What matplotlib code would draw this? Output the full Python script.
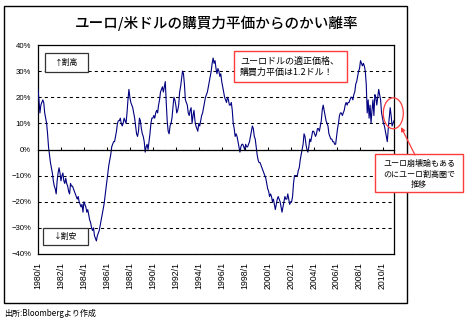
import numpy as np
import pandas as pd
import matplotlib
matplotlib.use('Agg')
import matplotlib.pyplot as plt
from matplotlib.patches import Rectangle, Ellipse, FancyArrowPatch

plt.rcParams['font.family'] = ['Noto Sans CJK JP', 'DejaVu Sans']

# ── data: monthly deviation (%) of EUR/USD from PPP ──────────────────────────

dev_1980s = [
    23, 19, 14, 17, 18, 19, 18, 14, 12, 10, 6, 1,              # 1980
    -2, -5, -7, -9, -12, -14, -15, -17, -12, -9, -7, -9,       # 1981
    -12, -10, -9, -12, -13, -11, -13, -14, -16, -17, -13, -14, # 1982
    -14, -15, -16, -17, -18, -19, -18, -20, -21, -22, -21, -24,# 1983
    -20, -21, -22, -24, -23, -25, -27, -28, -30, -31, -30, -33,# 1984
    -34, -35, -33, -32, -31, -29, -27, -25, -23, -21, -18, -15,# 1985
    -12, -9, -6, -4, -2, 1, 2, 3, 3, 5, 7, 10,                 # 1986
    11, 11, 12, 10, 9, 10, 12, 11, 10, 14, 19, 23,             # 1987
    20, 18, 17, 16, 14, 12, 9, 6, 5, 7, 12, 11,                # 1988
    8, 6, 5, 3, -1, 1, 2, 0, 3, 6, 10, 12,                     # 1989
]
dev_1990s = [
    12, 13, 12, 14, 15, 14, 17, 19, 22, 23, 24, 22,            # 1990
    24, 26, 18, 11, 7, 6, 9, 10, 12, 16, 20, 19,               # 1991
    17, 14, 15, 17, 22, 24, 27, 30, 29, 25, 19, 18,            # 1992
    17, 14, 13, 15, 16, 10, 13, 15, 11, 9, 8, 7,               # 1993
    10, 9, 11, 13, 14, 16, 18, 20, 21, 22, 24, 26,             # 1994
    28, 30, 33, 35, 33, 34, 31, 29, 31, 30, 28, 29,            # 1995
    26, 24, 22, 20, 19, 18, 20, 19, 17, 17, 18, 15,            # 1996
    10, 8, 5, 6, 5, 3, 1, -1, 1, 2, 2, 1,                      # 1997
    0, 2, 1, 1, 2, 3, 5, 7, 9, 8, 5, 4,                        # 1998
    1, -2, -4, -5, -5, -6, -7, -8, -9, -10, -11, -13,          # 1999
]
dev_2000s = [
    -15, -16, -18, -17, -18, -20, -19, -21, -23, -21, -19, -18,# 2000
    -19, -20, -22, -24, -22, -20, -18, -19, -19, -17, -19, -21,# 2001
    -20, -20, -18, -13, -10, -10, -10, -10, -8, -7, -4, -2,    # 2002
    0, 2, 6, 5, 2, 0, -1, 1, 4, 3, 5, 7,                       # 2003
    7, 6, 5, 6, 8, 8, 7, 9, 11, 15, 17, 15,                    # 2004
    13, 11, 10, 9, 6, 5, 4, 4, 3, 3, 2, 2,                     # 2005
    5, 8, 10, 13, 14, 14, 13, 14, 15, 17, 18, 17,              # 2006
    18, 18, 19, 20, 20, 19, 21, 22, 25, 26, 28, 30,            # 2007
    31, 34, 33, 32, 33, 32, 30, 25, 14, 19, 12, 17,            # 2008
    10, 15, 19, 13, 21, 20, 17, 20, 23, 21, 19, 14,            # 2009
]
dev_2010s = [
    12, 10, 9, 7, 5, 3, 8, 12, 16, 13, 9, 10,                  # 2010
    11,                                                        # 2011
]

y_ticks = [-40, -30, -20, -10, 0, 10, 20, 30, 40]

dev = np.array(dev_1980s + dev_1990s + dev_2000s + dev_2010s, dtype=float)
dates = pd.date_range('1980-01-01', periods=len(dev), freq='MS')
x = np.arange(len(dev))
tick_pos = x[::24]
tick_lab = [f'{d.year}/{d.month}' for d in dates[::24]]

# ── layout helpers (pixel → figure fraction) ─────────────────────────────────

W, H = 468, 322
def fx(px): return px / W
def fy(py): return 1 - py / H

RED = '#ff3c3c'
NAVY = '#000080'
TICKFONT = 'Liberation Sans'

fig = plt.figure(figsize=(W / 100, H / 100), dpi=100)
fig.patch.set_facecolor('white')

ax = fig.add_axes([fx(38), fy(254), fx(394) - fx(38), fy(45) - fy(254)])
ax.plot(x, dev, color=NAVY, lw=0.8, zorder=3)
ax.set_xlim(x[0], x[-1])
ax.set_ylim(-40, 40)

ax.set_yticks(y_ticks)
ax.set_yticklabels([f'{v}%'.replace('-', '\u2212') for v in y_ticks],
                   fontsize=5.6, family=TICKFONT)
ax.tick_params(axis='y', length=0, pad=5)
ax.grid(axis='y', color='black', lw=0.75, ls=(0, (3, 3)))

# x axis line crosses at 0 with small inward ticks, labels at the bottom
ax.spines['bottom'].set_position(('data', 0))
ax.spines['bottom'].set_zorder(4)
ax.set_xticks(tick_pos)
ax.tick_params(axis='x', direction='in', length=2.5, width=0.75,
               labelbottom=False)
for s in ax.spines.values():
    s.set_linewidth(0.9)

sec = ax.secondary_xaxis('bottom')
sec.set_xticks(tick_pos)
sec.set_xticklabels(tick_lab, rotation=90, fontsize=6.3, family=TICKFONT)
sec.tick_params(length=0, pad=6)
sec.spines['bottom'].set_linewidth(0.9)

# ── frame, title, notes ──────────────────────────────────────────────────────

fig.add_artist(Rectangle((fx(4), fy(303)), fx(407) - fx(4), fy(6) - fy(303),
                         transform=fig.transFigure, fill=False,
                         ec='black', lw=1.0))

fig.text(fx(217), fy(23), 'ユーロ/米ドルの購買力平価からのかい離率',
         ha='center', va='center', fontsize=10.5, fontweight='medium')

def box(x0, y0, x1, y1, ec, lw=0.9):
    fig.add_artist(Rectangle((fx(x0), fy(y1)), fx(x1) - fx(x0), fy(y0) - fy(y1),
                             transform=fig.transFigure, fc='white',
                             ec=ec, lw=lw, zorder=5))

box(45, 53, 88, 72, '#333333')
fig.text(fx(66.5), fy(62.5), '↑割高', ha='center', va='center',
         fontsize=5.6, zorder=6)
box(43, 228, 88, 245, '#333333')
fig.text(fx(65.5), fy(236.5), '↓割安', ha='center', va='center',
         fontsize=5.6, zorder=6)

box(234, 51, 347, 82, RED, lw=1.0)
fig.text(fx(240), fy(61), 'ユーロドルの適正価格、', ha='left', va='center',
         fontsize=6.5, zorder=6)
fig.text(fx(240), fy(72.5), '購買力平価は1.2ドル！', ha='left', va='center',
         fontsize=6.5, zorder=6)

box(375, 154, 463, 192, RED, lw=1.0)
for yy, line in zip([163.5, 174, 184.5],
                    ['ユーロ崩壊論もある', 'のにユーロ割高圏で', '推移']):
    fig.text(fx(419), fy(yy), line, ha='center', va='center',
             fontsize=5.8, zorder=6)

fig.add_artist(Ellipse((fx(393.3), fy(113.3)), 20 / W, 31 / H,
                       transform=fig.transFigure, fill=False, ec=RED,
                       lw=0.9, zorder=6))
fig.add_artist(FancyArrowPatch((fx(415), fy(155)), (fx(401), fy(127)),
                               transform=fig.transFigure, arrowstyle='-|>',
                               mutation_scale=6, color=RED, lw=0.9,
                               shrinkA=0, shrinkB=0, zorder=6))

fig.text(fx(4), fy(313), '出所:Bloombergより作成', ha='left', va='center',
         fontsize=5.8)

fig.savefig('out.png', dpi=100, facecolor='white')
